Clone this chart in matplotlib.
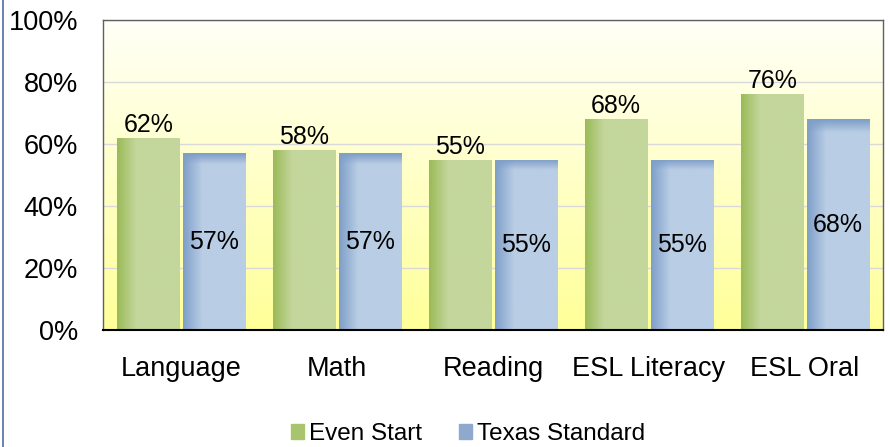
import numpy as np
import matplotlib
matplotlib.use("Agg")
import matplotlib.pyplot as plt
from matplotlib.colors import to_rgb
from matplotlib.patches import Rectangle
from matplotlib.lines import Line2D

plt.rcParams['font.family'] = ['Liberation Sans', 'DejaVu Sans']

categories = ['Language', 'Math', 'Reading', 'ESL Literacy', 'ESL Oral']
even_start = [62, 58, 55, 68, 76]
texas_standard = [57, 57, 55, 55, 68]
series_names = ['Even Start', 'Texas Standard']
yticks = [0, 20, 40, 60, 80, 100]


def shaded(ax, bars, dark, light, top_dark=False):
    # horizontal gradient: darker edge on the left, fading in quickly
    dark = np.array(to_rgb(dark))
    light = np.array(to_rgb(light))
    t = np.clip(np.linspace(0, 1, 60) / 0.3, 0, 1)[None, :, None]
    img = dark * (1 - t) + light * t
    if top_dark:
        s = np.clip(np.linspace(0, 1, 120) / 0.06, 0, 1)[:, None, None]
        img = np.broadcast_to(img, (120, 60, 3))
        img = dark * (1 - s) + img * s
    for b in bars:
        x, w, h = b.get_x(), b.get_width(), b.get_height()
        b.set_facecolor('none')
        im = ax.imshow(img, extent=[x, x + w, 0, h], origin='upper',
                       aspect='auto', zorder=2, interpolation='bilinear')
        im.set_clip_path(b)


fig = plt.figure(figsize=(8.9, 4.47), dpi=100)
ax = fig.add_axes([103 / 890, 1 - 330 / 447, 780 / 890, 310 / 447])

# yellow background gradient
bg = np.array([[1, 1, 0.97], [1, 1, 0.6]])
t = np.linspace(0, 1, 100)[:, None]
bgimg = bg[0] * (1 - t) + bg[1] * t
ax.imshow(bgimg[:, None, :], extent=[0, 1, 0, 1], transform=ax.transAxes,
          aspect='auto', zorder=0)

x = np.arange(len(categories))
w = 0.40
b1 = ax.bar(x - 0.21, even_start, w, color='#C3D69B', zorder=2)
b2 = ax.bar(x + 0.21, texas_standard, w, color='#B9CDE5', zorder=2)
shaded(ax, b1, '#9BBB59', '#C3D69B')
shaded(ax, b2, '#7F9FC8', '#B9CDE5', top_dark=True)

for xi, v in zip(x, even_start):
    ax.text(xi - 0.21, v + 0.3, f'{v}%', ha='center', va='bottom', fontsize=18, zorder=4)
for xi, v in zip(x, texas_standard):
    ax.text(xi + 0.21, v / 2, f'{v}%', ha='center', va='center', fontsize=18, zorder=4)

ax.set_xlim(-0.5, len(categories) - 0.5)
ax.set_ylim(0, 100)
ax.set_yticks(yticks)
ax.set_yticklabels([f'{v}%' for v in yticks], fontsize=19.5)
ax.set_xticks(x)
ax.set_xticklabels(categories, fontsize=19.5)
ax.tick_params(length=0)
ax.tick_params(axis='x', pad=19)
ax.tick_params(axis='y', pad=18)
ax.yaxis.grid(True, color='#D9D9D9', lw=1, zorder=1)
ax.set_axisbelow(True)
for s in ['top', 'right', 'left']:
    ax.spines[s].set_color('#606060')
    ax.spines[s].set_linewidth(1)
ax.spines['bottom'].set_color('black')
ax.spines['bottom'].set_linewidth(1.5)

handles = [Rectangle((0, 0), 1, 1, color='#A9C46F'), Rectangle((0, 0), 1, 1, color='#8FA9CE')]
fig.legend(handles, series_names, loc='center', bbox_to_anchor=(468 / 890, 1 - 434 / 447),
           ncol=2, frameon=False, fontsize=17.5, handlelength=0.55, handleheight=0.55,
           handletextpad=0.2, columnspacing=1.5)

fig.add_artist(Line2D([3 / 890, 3 / 890], [0, 1], color='#4F6F9F', lw=1.2))

fig.savefig('out.png', dpi=100)
